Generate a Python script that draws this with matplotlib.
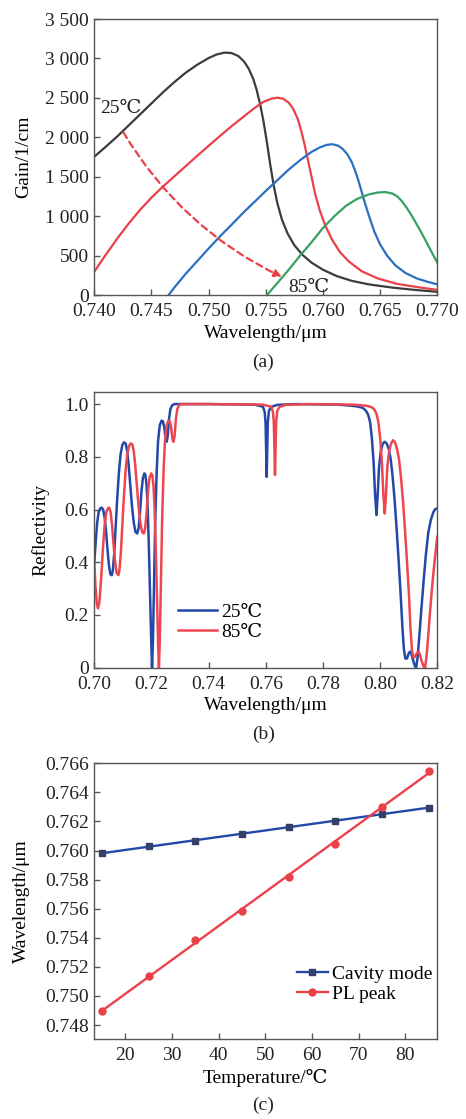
import matplotlib
matplotlib.use('Agg')
import matplotlib.pyplot as plt
import numpy as np
from matplotlib.lines import Line2D

plt.rcParams['font.family'] = ['Liberation Serif', 'DejaVu Serif', 'Noto Sans CJK SC']
plt.rcParams['font.size'] = 14
plt.rcParams['axes.unicode_minus'] = False

# (a) gain spectra (black, red, blue, green)
g1_wl = [0.7400, 0.7410, 0.7420, 0.7430, 0.7440, 0.7450, 0.7460, 0.7470, 0.7480, 0.7490,
         0.7500, 0.7507, 0.7514, 0.7520, 0.7526, 0.7531, 0.7535, 0.7539, 0.7542, 0.7545,
         0.7548, 0.7551, 0.7554, 0.7557, 0.7560, 0.7564, 0.7569, 0.7575, 0.7582, 0.7590,
         0.7600, 0.7612, 0.7625, 0.7640, 0.7660, 0.7680, 0.7700]
g1 = [1754, 1880, 2010, 2150, 2290, 2430, 2570, 2700, 2820, 2920,
      3005, 3050, 3074, 3068, 3030, 2960, 2870, 2740, 2600, 2420,
      2200, 1930, 1640, 1380, 1170, 960, 780, 630, 510, 410,
      320, 240, 180, 135, 95, 65, 40]
g2_wl = [0.7400, 0.7410, 0.7420, 0.7430, 0.7440, 0.7450, 0.7460, 0.7470, 0.7480, 0.7490,
         0.7500, 0.7510, 0.7520, 0.7530, 0.7540, 0.7548, 0.7555, 0.7560, 0.7565, 0.7570,
         0.7574, 0.7578, 0.7581, 0.7584, 0.7587, 0.7590, 0.7593, 0.7597, 0.7602, 0.7608,
         0.7615, 0.7623, 0.7634, 0.7648, 0.7665, 0.7685, 0.7700]
g2 = [296, 510, 715, 905, 1080, 1235, 1375, 1505, 1635, 1765,
      1892, 2018, 2140, 2255, 2370, 2450, 2490, 2502, 2490, 2440,
      2360, 2230, 2080, 1900, 1700, 1500, 1290, 1080, 880, 700,
      540, 420, 300, 210, 140, 95, 65]
g3_wl = [0.7465, 0.7470, 0.7480, 0.7490, 0.7500, 0.7510, 0.7520, 0.7530, 0.7540, 0.7550,
         0.7560, 0.7570, 0.7580, 0.7590, 0.7597, 0.7603, 0.7608, 0.7613, 0.7617, 0.7621,
         0.7625, 0.7628, 0.7631, 0.7634, 0.7637, 0.7641, 0.7645, 0.7650, 0.7656, 0.7663,
         0.7672, 0.7682, 0.7692, 0.7700]
g3 = [0, 95, 270, 430, 590, 745, 890, 1040, 1180, 1320,
      1455, 1590, 1710, 1815, 1870, 1903, 1912, 1895, 1855, 1790,
      1690, 1580, 1450, 1300, 1150, 970, 800, 640, 500, 380,
      280, 210, 165, 135]
g4_wl = [0.7551, 0.7560, 0.7570, 0.7580, 0.7590, 0.7600, 0.7610, 0.7620, 0.7630, 0.7640,
         0.7648, 0.7655, 0.7661, 0.7665, 0.7669, 0.7673, 0.7677, 0.7681, 0.7685, 0.7689,
         0.7693, 0.7697, 0.7700]
g4 = [0, 150, 320, 500, 670, 850, 1000, 1130, 1220, 1275,
      1300, 1305, 1285, 1250, 1190, 1110, 1020, 920, 820, 710,
      600, 490, 410]

# (b) reflectivity spectra
r25_wl = [0.7000, 0.7005, 0.7010, 0.7015, 0.7021, 0.7026, 0.7031, 0.7036, 0.7041, 0.7046,
          0.7051, 0.7056, 0.7061, 0.7065, 0.7070, 0.7075, 0.7080, 0.7086, 0.7092, 0.7098,
          0.7104, 0.7110, 0.7115, 0.7120, 0.7126, 0.7132, 0.7138, 0.7144, 0.7150, 0.7155,
          0.7160, 0.7165, 0.7170, 0.7175, 0.7179, 0.7183, 0.7187, 0.7191, 0.7195, 0.7199,
          0.7202, 0.7205, 0.7209, 0.7213, 0.7218, 0.7223, 0.7229, 0.7235, 0.7240, 0.7245,
          0.7249, 0.7253, 0.7257, 0.7261, 0.7266, 0.7272, 0.7280, 0.7400, 0.7560, 0.7590,
          0.7596, 0.7599, 0.7601, 0.7603, 0.7605, 0.7607, 0.7611, 0.7620, 0.7640, 0.7700,
          0.7850, 0.7900, 0.7925, 0.7940, 0.7950, 0.7958, 0.7965, 0.7971, 0.7977, 0.7982,
          0.7987, 0.7991, 0.7996, 0.8002, 0.8009, 0.8016, 0.8023, 0.8030, 0.8037, 0.8044,
          0.8051, 0.8058, 0.8065, 0.8072, 0.8078, 0.8083, 0.8088, 0.8094, 0.8100, 0.8105,
          0.8110, 0.8116, 0.8122, 0.8126, 0.8131, 0.8137, 0.8144, 0.8152, 0.8160, 0.8168,
          0.8177, 0.8186, 0.8193, 0.8200]
r25 = [0.40, 0.48, 0.55, 0.59, 0.605, 0.607, 0.60, 0.57, 0.52, 0.45,
       0.39, 0.355, 0.351, 0.37, 0.44, 0.54, 0.64, 0.74, 0.81, 0.845,
       0.855, 0.85, 0.82, 0.77, 0.69, 0.61, 0.55, 0.515, 0.509, 0.53,
       0.59, 0.67, 0.72, 0.737, 0.73, 0.69, 0.60, 0.45, 0.28, 0.10,
       0.0, 0.10, 0.32, 0.55, 0.74, 0.86, 0.92, 0.937, 0.935, 0.91,
       0.87, 0.857, 0.88, 0.94, 0.98, 0.995, 1.0, 1.0, 0.998, 0.99,
       0.97, 0.93, 0.83, 0.724, 0.83, 0.93, 0.975, 0.99, 0.997, 1.0,
       0.998, 0.994, 0.99, 0.985, 0.975, 0.96, 0.93, 0.87, 0.78, 0.66,
       0.579, 0.65, 0.76, 0.82, 0.85, 0.857, 0.85, 0.83, 0.79, 0.72,
       0.63, 0.52, 0.40, 0.27, 0.15, 0.07, 0.035, 0.035, 0.055, 0.061,
       0.05, 0.025, 0.005, 0.0, 0.04, 0.12, 0.22, 0.33, 0.43, 0.51,
       0.56, 0.59, 0.602, 0.604]
r85_wl = [0.7000, 0.7004, 0.7009, 0.7013, 0.7018, 0.7024, 0.7030, 0.7036, 0.7042, 0.7048,
          0.7052, 0.7057, 0.7062, 0.7067, 0.7072, 0.7078, 0.7084, 0.7088, 0.7093, 0.7098,
          0.7103, 0.7109, 0.7115, 0.7121, 0.7127, 0.7133, 0.7138, 0.7143, 0.7149, 0.7155,
          0.7161, 0.7167, 0.7173, 0.7178, 0.7183, 0.7188, 0.7193, 0.7199, 0.7203, 0.7207,
          0.7211, 0.7215, 0.7219, 0.7223, 0.7226, 0.7229, 0.7233, 0.7237, 0.7242, 0.7247,
          0.7253, 0.7259, 0.7264, 0.7269, 0.7273, 0.7277, 0.7281, 0.7285, 0.7290, 0.7296,
          0.7304, 0.7400, 0.7590, 0.7619, 0.7625, 0.7628, 0.7630, 0.7632, 0.7634, 0.7636,
          0.7640, 0.7649, 0.7669, 0.7750, 0.7900, 0.7950, 0.7965, 0.7975, 0.7982, 0.7988,
          0.7994, 0.8000, 0.8006, 0.8011, 0.8016, 0.8020, 0.8025, 0.8031, 0.8038, 0.8045,
          0.8052, 0.8059, 0.8066, 0.8073, 0.8080, 0.8087, 0.8094, 0.8101, 0.8106, 0.8111,
          0.8115, 0.8121, 0.8128, 0.8134, 0.8139, 0.8145, 0.8152, 0.8157, 0.8162, 0.8168,
          0.8175, 0.8182, 0.8189, 0.8195, 0.8200]
r85 = [0.40, 0.31, 0.24, 0.225, 0.25, 0.34, 0.45, 0.54, 0.59, 0.605,
       0.607, 0.59, 0.54, 0.47, 0.41, 0.36, 0.351, 0.37, 0.44, 0.54,
       0.64, 0.74, 0.81, 0.84, 0.851, 0.847, 0.82, 0.77, 0.69, 0.61,
       0.55, 0.515, 0.509, 0.53, 0.59, 0.67, 0.72, 0.737, 0.73, 0.69,
       0.60, 0.45, 0.28, 0.10, 0.0, 0.10, 0.32, 0.55, 0.74, 0.86,
       0.92, 0.937, 0.935, 0.91, 0.87, 0.857, 0.88, 0.94, 0.98, 0.995,
       1.0, 1.0, 0.998, 0.99, 0.97, 0.93, 0.83, 0.731, 0.83, 0.93,
       0.975, 0.99, 0.997, 1.0, 0.998, 0.994, 0.99, 0.985, 0.975, 0.96,
       0.93, 0.87, 0.78, 0.66, 0.585, 0.65, 0.76, 0.82, 0.85, 0.863,
       0.855, 0.83, 0.79, 0.72, 0.63, 0.52, 0.40, 0.27, 0.15, 0.07,
       0.042, 0.04, 0.055, 0.061, 0.05, 0.025, 0.005, 0.0, 0.04, 0.12,
       0.22, 0.31, 0.39, 0.45, 0.497]

# (c) temperature dependence
temps = [15, 25, 35, 45, 55, 65, 75, 85]
cavity = [0.75982, 0.76028, 0.76069, 0.76115, 0.76160, 0.76206, 0.76250, 0.76295]
pl_peak = [0.74894, 0.75139, 0.75386, 0.75583, 0.75821, 0.76046, 0.76302, 0.76547]

c_black = '#3c3c3c'
c_red = '#ea4048'
c_blue = '#2b6fc0'
c_green = '#36a062'
c_blue2 = '#2348a8'
c_red2 = '#ee4650'
spine_c = '#555555'


def style(ax):
    for s in ax.spines.values():
        s.set_color(spine_c)
        s.set_linewidth(1.0)
    ax.tick_params(direction='in', length=4, width=1, color=spine_c,
                   top=False, right=False, labelsize=14, labelcolor='#222222')
    ax.tick_params(axis='x', pad=6)
    ax.tick_params(axis='y', pad=4)


fig = plt.figure(figsize=(4.66, 11.19), dpi=100)

# (a)
ax1 = fig.add_axes([0.2024, 0.73637, 0.7361, 0.24665])
ax1.plot(g1_wl, g1, color=c_black, lw=1.6)
ax1.plot(g2_wl, g2, color=c_red, lw=1.6)
ax1.plot(g3_wl, g3, color=c_blue, lw=1.6)
ax1.plot(g4_wl, g4, color=c_green, lw=1.6)
ax1.annotate('', xy=(0.7564, 230), xytext=(0.74254, 2063),
             arrowprops=dict(arrowstyle='-|>', linestyle=(0, (3, 2)), color=c_red,
                             lw=1.6, mutation_scale=11,
                             connectionstyle='arc3,rad=0.15', shrinkA=0, shrinkB=0))
ax1.text(0.74051, 2308, '25℃', fontsize=14, color='#222222')
ax1.text(0.7570, 42, '85℃', fontsize=14, color='#222222')
ax1.set_xlim(0.740, 0.770)
ax1.set_ylim(0, 3500)
ax1.set_xticks([0.740, 0.745, 0.750, 0.755, 0.760, 0.765, 0.770])
ax1.set_xticklabels(['0.740', '0.745', '0.750', '0.755', '0.760', '0.765', '0.770'])
ax1.set_yticks([0, 500, 1000, 1500, 2000, 2500, 3000, 3500])
ax1.set_yticklabels(['0', '500', '1 000', '1 500', '2 000', '2 500', '3 000', '3 500'])
ax1.set_xlabel('Wavelength/μm', labelpad=3)
ax1.set_ylabel('Gain/1/cm')
ax1.yaxis.set_label_coords(-0.18, 0.5)
style(ax1)

# (b)
ax2 = fig.add_axes([0.2024, 0.40331, 0.7361, 0.24665])
ax2.plot(r25_wl, r25, color=c_blue2, lw=1.8, label='25℃')
ax2.plot(r85_wl, r85, color=c_red2, lw=1.8, label='85℃')
ax2.set_xlim(0.70, 0.82)
ax2.set_ylim(0, 1.047)
ax2.set_xticks([0.70, 0.72, 0.74, 0.76, 0.78, 0.80, 0.82])
ax2.set_xticklabels(['0.70', '0.72', '0.74', '0.76', '0.78', '0.80', '0.82'])
ax2.set_yticks([0, 0.2, 0.4, 0.6, 0.8, 1.0])
ax2.set_yticklabels(['0', '0.2', '0.4', '0.6', '0.8', '1.0'])
ax2.set_xlabel('Wavelength/μm', labelpad=3)
ax2.set_ylabel('Reflectivity')
ax2.yaxis.set_label_coords(-0.13, 0.5)
ax2.legend(loc='center left', bbox_to_anchor=(0.245, 0.165), frameon=False,
           handlelength=2.0, handletextpad=0.2, labelspacing=0.1,
           borderpad=0, borderaxespad=0, fontsize=14)
style(ax2)

# (c)
ax3 = fig.add_axes([0.2024, 0.07149, 0.7361, 0.24692])
t_arr = np.array(temps)
fit_c = np.poly1d(np.polyfit(temps, cavity, 1))
fit_p = np.poly1d(np.polyfit(temps, pl_peak, 1))
ax3.plot(t_arr, fit_c(t_arr), color=c_blue2, lw=1.7)
ax3.plot(t_arr, fit_p(t_arr), color=c_red, lw=1.7)
ax3.plot(temps, cavity, 's', color='#34406a', ms=4.5)
ax3.plot(temps, pl_peak, 'o', color=c_red, ms=5)
ax3.set_xlim(13.35, 86.87)
ax3.set_ylim(0.74704, 0.76604)
ax3.set_xticks([20, 30, 40, 50, 60, 70, 80])
ax3.set_yticks([0.748, 0.750, 0.752, 0.754, 0.756, 0.758, 0.760, 0.762, 0.764, 0.766])
ax3.set_yticklabels(['%.3f' % v for v in ax3.get_yticks()])
ax3.set_xlabel('Temperature/℃', labelpad=3)
ax3.set_ylabel('Wavelength/μm')
ax3.yaxis.set_label_coords(-0.187, 0.5)
handles = [Line2D([], [], color=c_blue2, lw=1.7, marker='s', ms=4.5, mfc='#34406a', mec='#34406a'),
           Line2D([], [], color=c_red, lw=1.7, marker='o', ms=5)]
ax3.legend(handles, ['Cavity mode', 'PL peak'], loc='center left',
           bbox_to_anchor=(0.592, 0.199), frameon=False,
           handlelength=1.55, handletextpad=0.25, labelspacing=0.15,
           borderpad=0, borderaxespad=0, fontsize=14)
style(ax3)

fig.text(0.565, 0.6765, '(a)', ha='center', va='center', fontsize=14, color='#222222')
fig.text(0.565, 0.3436, '(b)', ha='center', va='center', fontsize=14, color='#222222')
fig.text(0.565, 0.0121, '(c)', ha='center', va='center', fontsize=14, color='#222222')

fig.savefig('out.png', dpi=100)
